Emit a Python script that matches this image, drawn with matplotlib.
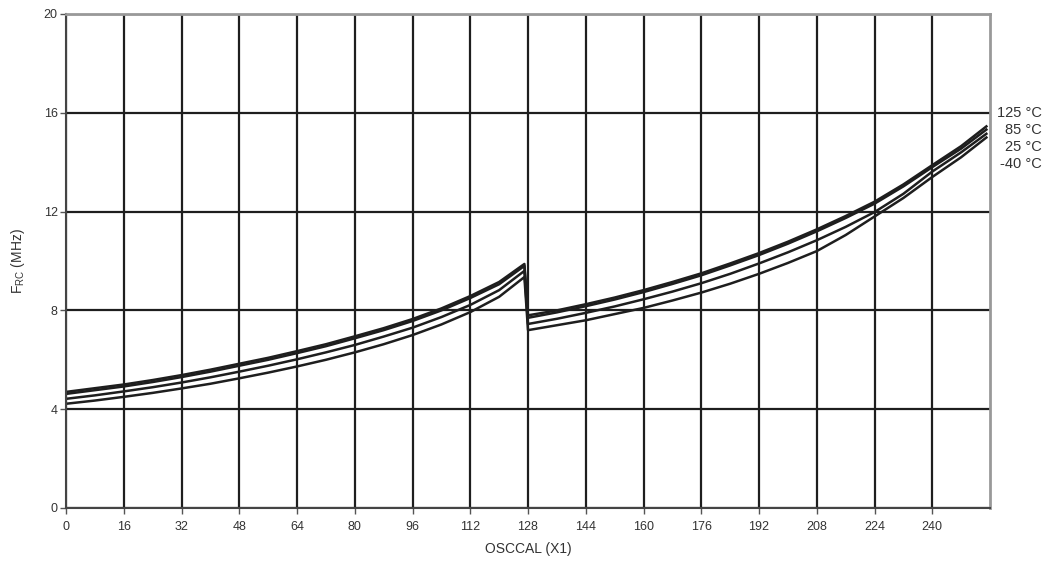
import numpy as np
import matplotlib
matplotlib.use('Agg')
from matplotlib import pyplot as plt

# OSCCAL setting and RC oscillator frequency (MHz)
osccal_lo = [0, 8, 16, 24, 32, 40, 48, 56, 64, 72, 80, 88, 96, 104, 112, 120, 127]
osccal_hi = [128, 136, 144, 152, 160, 168, 176, 184, 192, 200, 208, 216, 224, 232, 240, 248, 255]

f_125_lo = [4.70, 4.85, 5.00, 5.18, 5.38, 5.60, 5.84, 6.08, 6.35, 6.63, 6.95, 7.28, 7.65, 8.08, 8.58, 9.15, 9.88]
f_85_lo = [4.62, 4.77, 4.92, 5.10, 5.30, 5.52, 5.76, 6.00, 6.27, 6.55, 6.87, 7.20, 7.57, 8.00, 8.50, 9.06, 9.80]
f_25_lo = [4.42, 4.56, 4.72, 4.89, 5.08, 5.29, 5.52, 5.76, 6.02, 6.30, 6.60, 6.94, 7.30, 7.73, 8.22, 8.82, 9.60]
f_m40_lo = [4.22, 4.35, 4.50, 4.66, 4.84, 5.03, 5.25, 5.48, 5.73, 6.00, 6.30, 6.63, 7.00, 7.43, 7.93, 8.55, 9.35]

f_125_hi = [7.80, 8.00, 8.25, 8.52, 8.82, 9.15, 9.50, 9.90, 10.32, 10.78, 11.28, 11.82, 12.40, 13.10, 13.88, 14.65, 15.45]
f_85_hi = [7.70, 7.92, 8.17, 8.44, 8.74, 9.07, 9.42, 9.82, 10.24, 10.70, 11.20, 11.74, 12.32, 13.02, 13.80, 14.55, 15.32]
f_25_hi = [7.45, 7.66, 7.90, 8.16, 8.45, 8.76, 9.10, 9.48, 9.90, 10.35, 10.84, 11.38, 11.98, 12.72, 13.62, 14.40, 15.15]
f_m40_hi = [7.20, 7.40, 7.60, 7.85, 8.10, 8.40, 8.72, 9.08, 9.48, 9.92, 10.40, 11.05, 11.80, 12.55, 13.40, 14.20, 15.00]

labels = ['125 °C', '85 °C', '25 °C', '-40 °C']
series = [(f_125_lo, f_125_hi), (f_85_lo, f_85_hi),
          (f_25_lo, f_25_hi), (f_m40_lo, f_m40_hi)]

plt.rcParams['font.family'] = ['Liberation Sans', 'DejaVu Sans']

fig = plt.figure(figsize=(10.52, 5.70), dpi=100)
ax = fig.add_axes([66/1052, 1 - 508/570, (990 - 66)/1052, (508 - 14)/570])

x = np.array(osccal_lo + osccal_hi)
for lo, hi in series:
    y = np.array(lo + hi)
    ax.plot(x, y, color='#1e1e1e', lw=1.8, solid_joinstyle='round')

ax.set_xlim(0, 256)
ax.set_ylim(0, 20)
ax.set_xticks(np.arange(0, 256, 16))
ax.set_yticks(np.arange(0, 21, 4))
ax.grid(True, color='#1e1e1e', lw=1.6)
ax.tick_params(direction='out', length=4, width=1, color='#555555',
               labelsize=9, labelcolor='#333333', pad=5)
ax.tick_params(axis='y', pad=2)

for side in ['left', 'bottom']:
    ax.spines[side].set_color('#444444')
    ax.spines[side].set_linewidth(1.5)
for side in ['top', 'right']:
    ax.spines[side].set_color('#999999')
    ax.spines[side].set_linewidth(2)

ax.set_xlabel('OSCCAL (X1)', fontsize=10, color='#333333', labelpad=7)
ax.set_ylabel('F$_{\\mathregular{RC}}$ (MHz)', fontsize=10, color='#333333', labelpad=12)

for i, lab in enumerate(labels):
    fig.text(1042/1052, 1 - (113 + 17*i)/570, lab, ha='right', va='center',
             fontsize=10.5, color='#333333')

plt.savefig('out.png', dpi=100)
